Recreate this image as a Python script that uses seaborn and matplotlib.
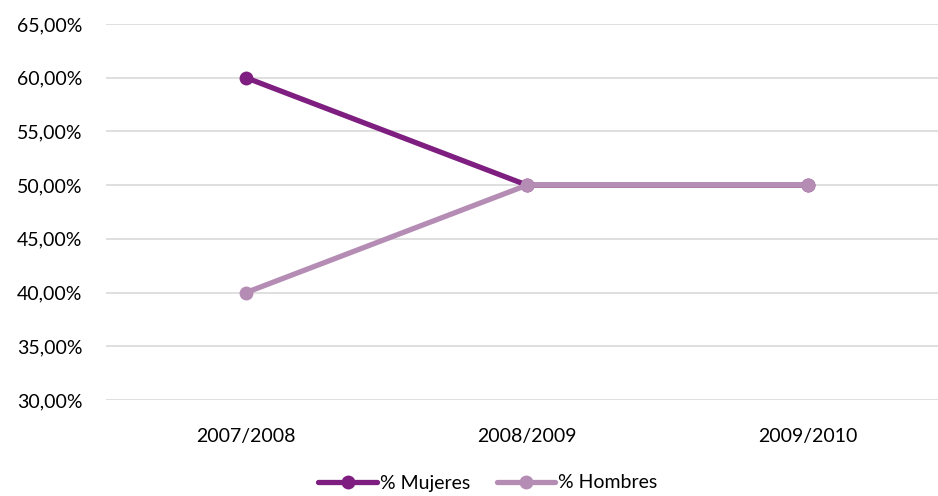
import matplotlib
matplotlib.use("Agg")
import matplotlib.pyplot as plt
import seaborn as sns
import pandas as pd
from matplotlib.ticker import FuncFormatter
from matplotlib.lines import Line2D

categories = ["2007/2008", "2008/2009", "2009/2010"]
mujeres = [60.0, 50.0, 50.0]
hombres = [40.0, 50.0, 50.0]
series_names = ["% Mujeres", "% Hombres"]
colors = ["#7E1E80", "#B48CB4"]

df = pd.DataFrame({
    "cat": list(range(len(categories))) * 2,
    "val": mujeres + hombres,
    "serie": [series_names[0]] * 3 + [series_names[1]] * 3,
})

sns.set_theme(style="white")
plt.rcParams['font.family'] = ['Lato', 'DejaVu Sans']

fig = plt.figure(figsize=(9.38, 4.96), dpi=100)
ax = fig.add_axes([106/938, 1-400/496, 1-106/938, (400-24)/496])

sns.lineplot(data=df, x="cat", y="val", hue="serie", palette=colors, ax=ax,
             linewidth=3.8, marker="o", markersize=10, markeredgewidth=0, legend=False)

ax.set_ylim(30, 65)
ax.set_yticks([30, 35, 40, 45, 50, 55, 60, 65])
ax.yaxis.set_major_formatter(FuncFormatter(lambda v, p: f"{v:.2f}%".replace(".", ",")))
ax.set_xlim(-140/281, 2 + 130/281)
ax.set_xticks(range(len(categories)))
ax.set_xticklabels(categories)
ax.grid(axis="y", color="#D9D9D9", linewidth=1.2)
ax.set_axisbelow(True)
for s in ax.spines.values():
    s.set_visible(False)
ax.tick_params(axis="both", length=0, labelsize=14, colors="#000000")
ax.tick_params(axis="y", pad=17)
ax.tick_params(axis="x", pad=20)
ax.set_xlabel("")
ax.set_ylabel("")

handles = [Line2D([0], [0], color=c, lw=3.8, marker="o", markersize=10, markeredgewidth=0) for c in colors]
fig.legend(handles, series_names, loc="center", bbox_to_anchor=(488/938, 1-483/496), ncol=2,
           frameon=False, fontsize=14, handlelength=3.0, handletextpad=0.15, columnspacing=1.4,
           labelcolor="#000000")

fig.savefig("out.png", dpi=100, facecolor="white")
